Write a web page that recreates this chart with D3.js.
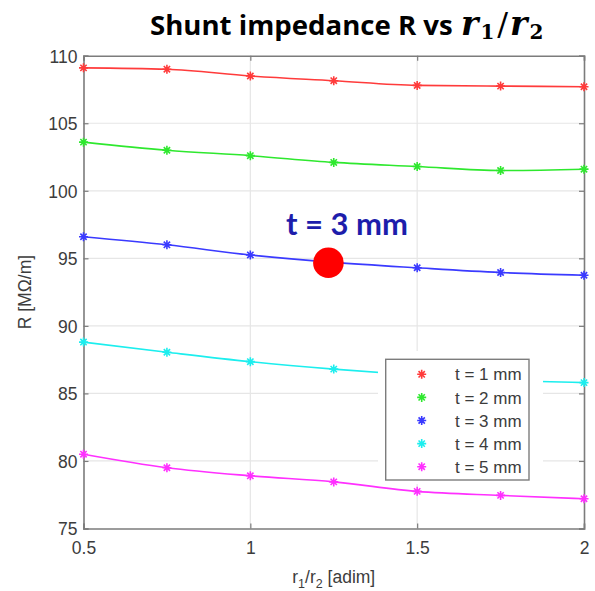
<!DOCTYPE html>
<html>
<head>
<meta charset="utf-8">
<script src="https://cdn.jsdelivr.net/npm/d3@7"></script>
<style>
  body { margin: 0; background: #fff; }
  svg { display: block; }
</style>
</head>
<body>
<svg id="chart" width="595" height="591"></svg>
<script>
// ratio r1/r2 sampled in the simulation
const ratios = [0.5, 0.75, 1, 1.25, 1.5, 1.75, 2];

// shunt impedance R [MOhm/m] for each thickness t
const rT1 = [109.1, 109.0, 108.5, 108.15, 107.8, 107.75, 107.7];
const rT2 = [103.6, 103.0, 102.6, 102.1, 101.8, 101.5, 101.6];
const rT3 = [96.6, 96.0, 95.25, 94.7, 94.3, 93.95, 93.75];
const rT4 = [88.8, 88.05, 87.35, 86.8, 86.35, 86.0, 85.8];
const rT5 = [80.5, 79.5, 78.9, 78.45, 77.75, 77.45, 77.2];

const seriesNames = ['t = 1 mm', 't = 2 mm', 't = 3 mm', 't = 4 mm', 't = 5 mm'];
const seriesColors = ['#ff3b3b', '#2ee82e', '#3a3aff', '#1ceeee', '#ff30ff'];

const xTicks = [0.5, 1, 1.5, 2];
const yTicks = [75, 80, 85, 90, 95, 100, 105, 110];

// highlighted operating point
const marked = { x: 1.234, y: 94.67, label: 't = 3 mm' };

const series = [rT1, rT2, rT3, rT4, rT5].map(function(vals, i) {
    return { name: seriesNames[i], color: seriesColors[i],
             points: ratios.map(function(r, j) { return [r, vals[j]]; }) };
});

let svg = d3.select('#chart');

const pLeft = 83.5, pRight = 584, pTop = 55.7, pBottom = 528.5;

let x = d3.scaleLinear().domain([0.5, 2]).range([pLeft, pRight]);
let y = d3.scaleLinear().domain([75, 110]).range([pBottom, pTop]);

// grid
svg.append('g')
    .selectAll('line')
    .data(xTicks.slice(1, -1))
    .join('line')
    .attr('x1', d => x(d)).attr('x2', d => x(d))
    .attr('y1', pTop).attr('y2', pBottom)
    .attr('stroke', '#e6e6e6').attr('stroke-width', 1.2);
svg.append('g')
    .selectAll('line')
    .data(yTicks.slice(1, -1))
    .join('line')
    .attr('y1', d => y(d)).attr('y2', d => y(d))
    .attr('x1', pLeft).attr('x2', pRight)
    .attr('stroke', '#e6e6e6').attr('stroke-width', 1.2);

// axes (MATLAB style: ticks inside)
let xAxis = svg.append('g')
    .attr('transform', `translate(0,${pBottom})`)
    .call(d3.axisBottom(x).tickValues(xTicks).tickSize(-5).tickPadding(13).tickFormat(d3.format('')));
let yAxis = svg.append('g')
    .attr('transform', `translate(${pLeft},0)`)
    .call(d3.axisLeft(y).tickValues(yTicks).tickSize(-5).tickPadding(6));
svg.append('g')
    .attr('transform', `translate(${pRight},0)`)
    .call(d3.axisRight(y).tickValues(yTicks).tickSize(-5).tickFormat(''));
svg.append('g')
    .attr('transform', `translate(0,${pTop})`)
    .call(d3.axisTop(x).tickValues(xTicks).tickSize(-5).tickFormat(''));

svg.selectAll('.domain').attr('stroke', '#7c7c7c').attr('stroke-width', 1.6);
svg.selectAll('.tick line').attr('stroke', '#7c7c7c').attr('stroke-width', 1.2);
svg.selectAll('.tick text')
    .attr('font-family', 'Liberation Sans, Arial, sans-serif')
    .attr('font-size', 17.5).attr('fill', '#3c3c3c');
yAxis.selectAll('.tick text').attr('dy', '0.36em');

// curves
let line = d3.line()
    .x(d => x(d[0]))
    .y(d => y(d[1]))
    .curve(d3.curveMonotoneX);

function asterisk(g, color, s) {
    g.append('path')
        .attr('d', `M${-s},0H${s}M0,${-s}V${s}M${-s*0.7},${-s*0.7}L${s*0.7},${s*0.7}M${-s*0.7},${s*0.7}L${s*0.7},${-s*0.7}`)
        .attr('stroke', color).attr('stroke-width', 1.6).attr('fill', 'none');
}

series.forEach(function(s) {
    svg.append('path')
        .datum(s.points)
        .attr('d', line)
        .attr('fill', 'none')
        .attr('stroke', s.color)
        .attr('stroke-width', 1.6);
    svg.append('g')
        .selectAll('g')
        .data(s.points)
        .join('g')
        .attr('transform', d => `translate(${x(d[0])},${y(d[1])})`)
        .each(function() { asterisk(d3.select(this), s.color, 4.5); });
});

// legend (pasted over the plot with a white patch)
svg.append('rect')
    .attr('x', 378).attr('y', 351).attr('width', 165).attr('height', 133)
    .attr('fill', '#fff');
let legend = svg.append('g');
legend.append('rect')
    .attr('x', 385.7).attr('y', 359.3).attr('width', 143.3).attr('height', 120.7)
    .attr('fill', '#fff').attr('stroke', '#7c7c7c').attr('stroke-width', 1.4);
series.forEach(function(s, i) {
    let row = legend.append('g').attr('transform', `translate(0,${374.3 + i * 23.1})`);
    let m = row.append('g').attr('transform', 'translate(421.7,0)');
    asterisk(m, s.color, 4.5);
    row.append('text')
        .attr('x', 455).attr('dy', '0.36em')
        .attr('font-family', 'Liberation Sans, Arial, sans-serif')
        .attr('font-size', 17).attr('fill', '#3c3c3c')
        .text(s.name);
});

// marked point
svg.append('circle')
    .attr('cx', x(marked.x)).attr('cy', y(marked.y)).attr('r', 15.3)
    .attr('fill', '#ff0000');
svg.append('text')
    .attr('x', 286).attr('y', 235)
    .attr('font-family', 'Lato, Open Sans, sans-serif')
    .attr('font-weight', 'bold')
    .attr('font-size', 31)
    .attr('fill', '#1d1dab')
    .text(marked.label);

// labels
let xl = svg.append('text')
    .attr('x', (pLeft + pRight) / 2).attr('y', 583)
    .attr('text-anchor', 'middle')
    .attr('font-family', 'Liberation Sans, Arial, sans-serif')
    .attr('font-size', 17.5).attr('fill', '#3c3c3c');
xl.append('tspan').text('r');
xl.append('tspan').attr('font-size', 12.5).attr('dy', 5).text('1');
xl.append('tspan').attr('dy', -5).text('/r');
xl.append('tspan').attr('font-size', 12.5).attr('dy', 5).text('2');
xl.append('tspan').attr('dy', -5).text(' [adim]');

svg.append('text')
    .attr('transform', `translate(25,${(pTop + pBottom) / 2}) rotate(-90)`)
    .attr('text-anchor', 'middle')
    .attr('dy', '0.36em')
    .attr('font-family', 'Liberation Sans, Arial, sans-serif')
    .attr('font-size', 17.5).attr('fill', '#3c3c3c')
    .text('R [MΩ/m]');

// title
let title = svg.append('text')
    .attr('x', 150).attr('y', 35)
    .attr('font-size', 27.6).attr('fill', '#000');
title.append('tspan')
    .attr('font-family', 'Open Sans, Lato, sans-serif')
    .attr('font-weight', 'bold')
    .text('Shunt impedance R vs');
let mathFont = 'DejaVu Serif, Liberation Serif, serif';
title.append('tspan').attr('x', 461).attr('font-family', mathFont).attr('font-style', 'italic').attr('font-weight', 'bold').attr('font-size', 33).text('r');
title.append('tspan').attr('font-family', mathFont).attr('font-weight', 'bold').attr('font-size', 20).attr('dx', 2).attr('dy', 4).text('1');
title.append('tspan').attr('font-family', mathFont).attr('font-size', 32).attr('dx', 3).attr('dy', -4).text('/');
title.append('tspan').attr('font-family', mathFont).attr('font-style', 'italic').attr('font-weight', 'bold').attr('font-size', 33).attr('dx', 2).text('r');
title.append('tspan').attr('font-family', mathFont).attr('font-weight', 'bold').attr('font-size', 20).attr('dx', 2).attr('dy', 4).text('2');
</script>
</body>
</html>
